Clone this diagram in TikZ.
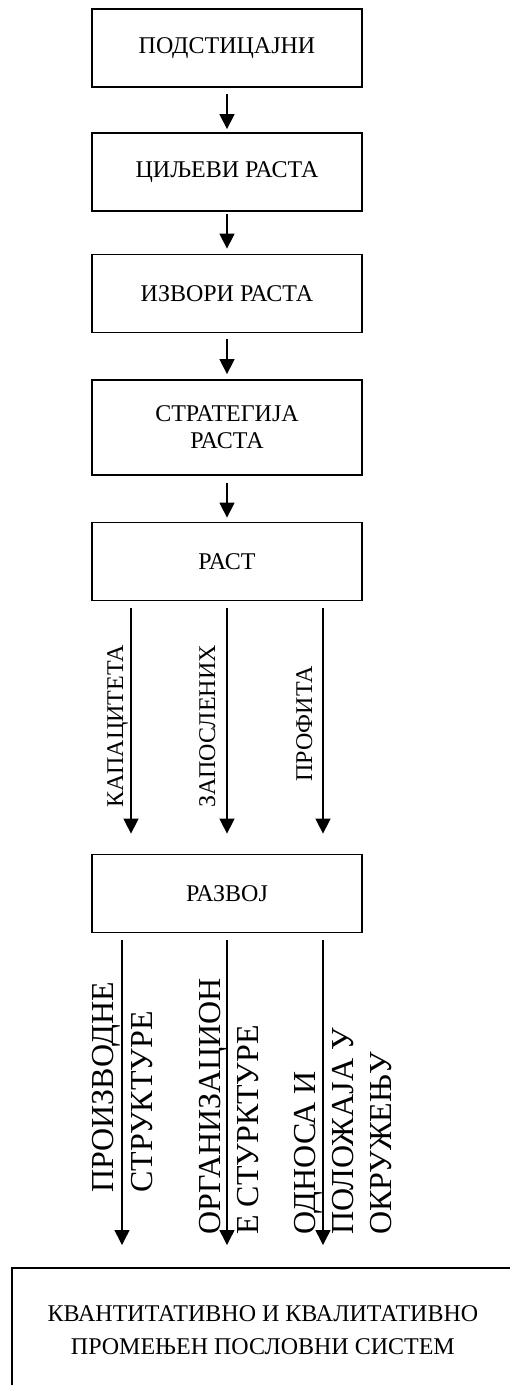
\documentclass[tikz,border=0pt]{standalone}
\usepackage{fontspec}
\setmainfont{Liberation Serif}
\usetikzlibrary{arrows.meta}
\begin{document}
\begin{tikzpicture}[x=1pt,y=-1pt,
  box/.style={draw=black,line width=1.8pt,minimum width=270pt,minimum height=78pt,
    align=center,inner sep=0pt,font=\fontsize{24}{27}\selectfont},
  arr/.style={line width=1.5pt,-{Triangle[width=15pt,length=15pt]}},
  lbl/.style={rotate=90,anchor=base west,inner sep=0pt,font=\fontsize{24}{28}\selectfont},
  big/.style={rotate=90,anchor=base west,inner sep=0pt,font=\fontsize{32}{38}\selectfont}]
\clip (0,0) rectangle (510,1385);
\fill[white] (0,0) rectangle (510,1385);
\node[box] (b1) at (227,48) {ПОДСТИЦАЈНИ};
\node[box] (b2) at (227,172) {ЦИЉЕВИ РАСТА};
\node[box] (b3) at (227,293.5) {ИЗВОРИ РАСТА};
\node[box,minimum height=95pt] (b4) at (227,427.5) {СТРАТЕГИЈА\\РАСТА};
\node[box] (b5) at (227,561.5) {РАСТ};
\node[box] (b6) at (227,893.5) {РАЗВОЈ};
\node[box,anchor=north west,minimum width=502pt,minimum height=124pt,
  font=\fontsize{24}{33}\selectfont] (b7) at (11,1267)
  {КВАНТИТАТИВНО И КВАЛИТАТИВНО\\ПРОМЕЊЕН ПОСЛОВНИ СИСТЕМ};
\draw[arr,shorten <=6pt,shorten >=3pt] (b1) -- (b2);
\draw[arr,shorten <=2pt,shorten >=5pt] (b2) -- (b3);
\draw[arr,shorten <=6pt,shorten >=5pt] (b3) -- (b4);
\draw[arr,shorten <=7pt,shorten >=4pt] (b4) -- (b5);
\draw[arr,shorten <=7pt,shorten >=20pt] ([xshift=-96pt]b5.south) -- ([xshift=-96pt]b6.north);
\draw[arr,shorten <=7pt,shorten >=20pt] (b5.south) -- (b6.north);
\draw[arr,shorten <=7pt,shorten >=20pt] ([xshift=96pt]b5.south) -- ([xshift=96pt]b6.north);
\draw[arr,shorten <=7pt,shorten >=22pt] ([xshift=-105pt]b6.south) -- ([xshift=-105pt]b7.north -| b6.south);
\draw[arr,shorten <=7pt,shorten >=22pt] (b6.south) -- (b6.south |- b7.north);
\draw[arr,shorten <=7pt,shorten >=22pt] ([xshift=96pt]b6.south) -- ([xshift=96pt]b7.north -| b6.south);
\node[lbl] (l1) at (123,808) {КАПАЦИТЕТА};
\node[lbl] (l2) at (215,808) {ЗАПОСЛЕНИХ};
\node[lbl] (l3) at (312,782) {ПРОФИТА};
\node[big] (m1) at (113,1193) {ПРОИЗВОДНЕ};
\node[big] (m2) at (152,1193) {СТРУКТУРЕ};
\node[big] (m3) at (220,1235) {ОРГАНИЗАЦИОН};
\node[big] (m4) at (258,1235) {Е СТУРКТУРЕ};
\node[big] (m5) at (315,1235) {ОДНОСА И};
\node[big] (m6) at (353,1235) {ПОЛОЖАЈА У};
\node[big] (m7) at (391,1235) {ОКРУЖЕЊУ};
\end{tikzpicture}
\end{document}
